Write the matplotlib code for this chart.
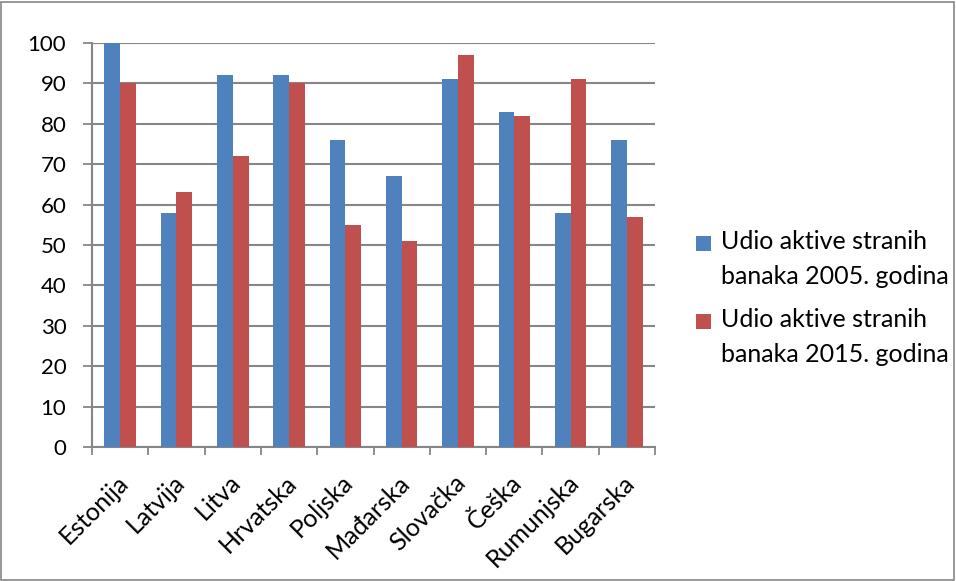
import numpy as np
import matplotlib.pyplot as plt
from matplotlib.patches import Rectangle
from matplotlib.container import BarContainer
from matplotlib.legend_handler import HandlerPatch, update_from_first_child
from matplotlib.transforms import ScaledTranslation

plt.rcParams['font.family'] = ['Lato', 'DejaVu Sans']

countries = ["Estonija", "Latvija", "Litva", "Hrvatska", "Poljska",
             "Mađarska", "Slovačka", "Češka", "Rumunjska", "Bugarska"]
share_2005 = [100, 58, 92, 92, 76, 67, 91, 83, 58, 76]
share_2015 = [90, 63, 72, 90, 55, 51, 97, 82, 91, 57]
labels = ["Udio aktive stranih\nbanaka 2005. godina",
          "Udio aktive stranih\nbanaka 2015. godina"]

BLUE = "#4F81BD"
RED = "#C0504D"
GRID = "#868686"


def top_square(legend, orig_handle, xdescent, ydescent, width, height, fontsize):
    # square next to the first line of the two-line label (Excel style)
    size = width
    return Rectangle((-xdescent, -ydescent + height / 2 - size / 2 + 11.5), size, size)


def main():
    fig = plt.figure(figsize=(9.56, 5.81), dpi=100)
    ax = fig.add_axes([0.0962, 0.2306, 0.589, 0.6954])

    x = np.arange(len(countries))
    w = 0.28
    ax.bar(x - w / 2, share_2005, w, color=BLUE, label=labels[0], zorder=3)
    ax.bar(x + w / 2, share_2015, w, color=RED, label=labels[1], zorder=3)

    ax.set_xlim(-0.5, len(countries) - 0.5)
    ax.set_ylim(0, 100)
    ax.set_yticks(range(0, 101, 10))
    ax.tick_params(axis='y', labelsize=16, length=6.5, width=1.3, color=GRID, pad=12)
    ax.yaxis.grid(True, color=GRID, linewidth=1.5, zorder=0)

    ax.set_xticks(x)
    ax.set_xticklabels(countries, rotation=45, ha='right', rotation_mode='anchor', fontsize=18)
    ax.tick_params(axis='x', length=0, pad=17)
    shift = ScaledTranslation(-0.04, 0, fig.dpi_scale_trans)
    for lab in ax.get_xticklabels():
        lab.set_transform(lab.get_transform() + shift)
    ax.set_xticks(np.arange(-0.5, len(countries)), minor=True)
    ax.tick_params(axis='x', which='minor', length=6, width=1.3, color=GRID)

    for side in ['top', 'right']:
        ax.spines[side].set_visible(False)
    for side in ['left', 'bottom']:
        ax.spines[side].set_color(GRID)
        ax.spines[side].set_linewidth(1.5)

    handler = HandlerPatch(patch_func=top_square, update_func=update_from_first_child)
    leg = ax.legend(loc='center left', bbox_to_anchor=(1.055, 0.369), frameon=False,
                    fontsize=18, handlelength=0.6, handleheight=0.6, handletextpad=0.4,
                    labelspacing=0.8, borderaxespad=0,
                    handler_map={BarContainer: handler})
    for t in leg.get_texts():
        t.set_linespacing(1.65)

    fig.patches.append(Rectangle((0.001, 0.002), 0.997, 0.995, transform=fig.transFigure,
                                 fill=False, edgecolor=GRID, linewidth=1.2))

    fig.savefig("out.png", dpi=100)


if __name__ == '__main__':
    main()
